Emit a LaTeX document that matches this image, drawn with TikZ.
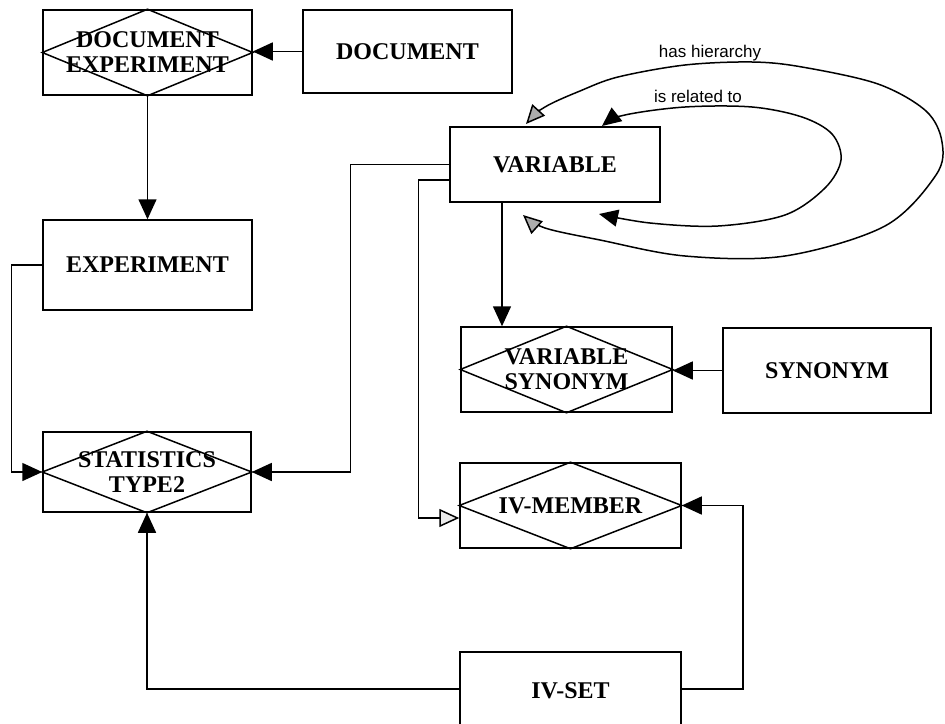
\documentclass[tikz,border=0pt]{standalone}
\usepackage{fontspec}
\setmainfont{Liberation Serif}
\newfontfamily\labelfont{Liberation Sans}
\usetikzlibrary{arrows.meta}

\begin{document}
\begin{tikzpicture}[x=1pt, y=-1pt, line width=1.5pt,
  entity/.style={draw, rectangle, inner sep=0pt, align=center,
    font=\bfseries\fontsize{24}{25}\selectfont,
    minimum width=209pt, minimum height=84pt},
  blk/.style={-{Triangle[length=20pt,width=18pt]}},
  gry/.style={-{Triangle[length=20pt,width=18pt,fill=gray!15]}},
  grayloop/.style={{Triangle[length=19pt,width=17pt,fill=gray!65]}-{Triangle[length=19pt,width=17pt,fill=gray!65]}},
  blackloop/.style={{Triangle[length=19pt,width=17pt]}-{Triangle[length=19pt,width=17pt]}},
  lbl/.style={font=\labelfont\fontsize{17}{19}\selectfont, inner sep=0pt}
]
\useasboundingbox (0,0) rectangle (945,723);
\clip (0,0) rectangle (945,723);
\fill[white] (0,0) rectangle (945,723);

% entities
\node[entity, minimum height=85pt] (docexp) at (147.5,52.5) {DOCUMENT\\EXPERIMENT};
\node[entity, minimum height=83pt] (doc) at (407.5,51.5) {DOCUMENT};
\node[entity, minimum height=90pt] (exp) at (147.5,265) {EXPERIMENT};
\node[entity, minimum width=208pt, minimum height=80pt] (stat) at (147,472) {STATISTICS\\TYPE2};
\node[entity, minimum width=210pt, minimum height=75pt] (var) at (555,164.5) {VARIABLE};
\node[entity, minimum width=211pt, minimum height=85pt] (varsyn) at (566.5,369.5) {VARIABLE\\SYNONYM};
\node[entity, minimum width=208pt, minimum height=85pt] (syn) at (827,370.5) {SYNONYM};
\node[entity, minimum width=221pt, minimum height=85pt] (ivm) at (570.5,505.5) {IV-MEMBER};
\node[entity, minimum width=221pt, text height=47pt, text depth=60pt, anchor=north] (ivset) at (570.5,651) {IV-SET};

% relationship diamonds inside their boxes
\foreach \n in {docexp,stat,varsyn,ivm}
  \draw (\n.west) -- (\n.north) -- (\n.east) -- (\n.south) -- cycle;

% connectors
\draw[blk] (doc.west) -- (doc.west -| docexp.east);
\draw[blk] (docexp.south) -- (exp.north);
\draw[blk] (exp.west) -- ++(-31,0) |- (stat.west);
\draw[blk] (var.west) -- ++(-99,0) |- (stat.east);
\draw[gry] ([yshift=-15.5pt]var.west) -- ++(-31,0) |- ([yshift=-12.5pt]ivm.west);
\draw[blk] ([xshift=-53pt]var.south) -- ([xshift=-53pt]var.south |- varsyn.north);
\draw[blk] (syn.west) -- (syn.west -| varsyn.east);
\draw[blk] ([yshift=16.5pt]ivset.east) -- ++(61,0) |- (ivm.east);
\draw[blk] ([yshift=16.5pt]ivset.west) -| (stat.south);

% recursive relationships of VARIABLE
\coordinate (hTop) at (526,124);
\coordinate (hBot) at (523,215);
\coordinate (rTop) at (602,126);
\coordinate (rBot) at (599,214);

\draw[grayloop]
  plot[smooth, tension=0.55] coordinates {(hTop) (545,107) (580,91) (618,77) (685,65)
    (752,62) (802,67) (878,84) (926,111) (942,142) (936,175) (885,226)
    (785,256) (685,256) (600,240) (545,228) (hBot)};
\draw[blackloop]
  plot[smooth, tension=0.55] coordinates {(rTop) (625,115) (685,107) (752,107)
    (802,117) (832,134) (841,160) (825,188) (785,215) (718,226) (650,223) (rBot)};

\node[lbl] (hh) at (710,53) {has hierarchy};
\node[lbl] (irt) at (698,96) {is related to};
\end{tikzpicture}
\end{document}
